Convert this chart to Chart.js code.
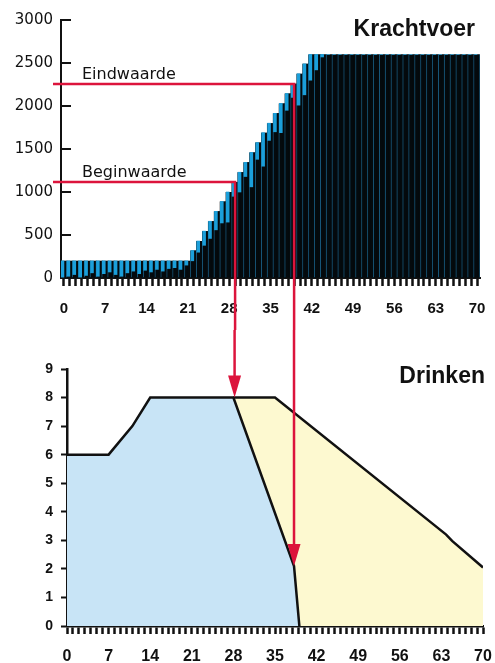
<!DOCTYPE html>
<html>
<head>
<meta charset="utf-8">
<script src="https://cdn.jsdelivr.net/npm/chart.js@4/dist/chart.umd.min.js"></script>
<style>
html, body { margin: 0; padding: 0; background: #fff; }
#wrap { width: 495px; height: 663px; }
canvas { display: block; }
</style>
</head>
<body>
<div id="wrap">
    <canvas id="voer" width="495" height="330"></canvas>
    <canvas id="drink" width="495" height="333"></canvas>
</div>
<script>
// dagen 0..70
var dagen = [0,1,2,3,4,5,6,7,8,9,10,11,12,13,14,15,16,17,18,19,20,21,22,23,24,25,26,27,28,29,30,31,32,33,34,35,
    36,37,38,39,40,41,42,43,44,45,46,47,48,49,50,51,52,53,54,55,56,57,58,59,60,61,62,63,64,65,66,67,68,69,70];

// krachtvoer per dag (g)
var voerWaarde = [200,200,200,200,200,200,200,200,200,200,200,200,200,200,200,200,200,200,200,200,200,200,
    320,430,545,660,775,890,1000,1115,1230,1345,1460,1575,1690,1800,1915,2030,2145,2260,2375,2490,
    2600,2600,2600,2600,2600,2600,2600,2600,2600,2600,2600,2600,2600,2600,2600,2600,2600,2600,2600,2600,
    2600,2600,2600,2600,2600,2600,2600,2600,2600];
// onderkant van de blauwe streep
var voerBlauwOnder = [10,20,40,10,30,60,20,50,70,40,20,60,80,50,90,70,100,80,110,120,100,150,
    200,300,380,460,560,640,650,950,1000,1180,1060,1380,1300,1600,1700,1690,1950,2100,2010,2130,
    2300,2420,2570,2600,2600,2600,2600,2600,2600,2600,2600,2600,2600,2600,2600,2600,2600,2600,2600,2600,
    2600,2600,2600,2600,2600,2600,2600,2600,2600];

var voerMarkDag = [29, 39];
var voerMarkWaarde = [1115, 2255];
var voerMarkTekst = ['Beginwaarde', 'Eindwaarde'];

// drinken (l)
var drinkVoorX = [0, 7, 11, 14, 28, 38.2, 39.1];
var drinkVoorY = [6, 6, 7, 8, 8, 2.1, 0];
var drinkNaX = [28, 35, 63.8, 64.8, 70];
var drinkNaY = [8, 8, 3.2, 2.98, 2.05];

var drinkPijlDag = [28.2, 38.2];
var drinkPijlWaarde = [8, 2.1];

var zwart = '#040a0d', blauw = '#1b9fda', rood = '#dc143c', tekst = '#111';
var lichtblauw = '#c8e4f6', lichtgeel = '#fdf9d0';

var voerPlugin = {
    id: 'voerExtra',
    beforeDatasetsDraw: function(chart){
        var ctx = chart.ctx, y = chart.scales.y, ca = chart.chartArea;
        ctx.save();
        ctx.strokeStyle = tekst;
        ctx.lineWidth = 2;
        y.ticks.forEach(function(t){
            var py = y.getPixelForValue(t.value);
            ctx.beginPath(); ctx.moveTo(ca.left, py); ctx.lineTo(ca.left + 10, py); ctx.stroke();
        });
        ctx.restore();
    },
    afterDraw: function(chart){
        var ctx = chart.ctx, x = chart.scales.x, y = chart.scales.y, ca = chart.chartArea;
        ctx.save();
        for (var i = 0; i < voerMarkDag.length; i++) {
            var px = x.getPixelForValue(voerMarkDag[i]);
            var py = y.getPixelForValue(voerMarkWaarde[i]);
            ctx.strokeStyle = rood;
            ctx.lineWidth = 2.5;
            ctx.beginPath();
            ctx.moveTo(ca.left - 8, py);
            ctx.lineTo(px, py);
            ctx.lineTo(px, chart.height + 5);
            ctx.stroke();
            ctx.fillStyle = tekst;
            ctx.font = '16px "DejaVu Sans"';
            ctx.textAlign = 'left';
            ctx.fillText(voerMarkTekst[i], ca.left + 21, py - 5.5);
        }
        ctx.fillStyle = tekst;
        ctx.font = 'bold 23px "Liberation Sans"';
        ctx.textAlign = 'right';
        ctx.fillText('Krachtvoer', ca.right - 5, 36);
        ctx.restore();
    }
};

var drinkPlugin = {
    id: 'drinkExtra',
    afterDraw: function(chart){
        var ctx = chart.ctx, x = chart.scales.x, y = chart.scales.y, ca = chart.chartArea;
        ctx.save();
        ctx.strokeStyle = rood;
        ctx.fillStyle = rood;
        ctx.lineWidth = 2.5;
        for (var i = 0; i < drinkPijlDag.length; i++) {
            var px = x.getPixelForValue(drinkPijlDag[i]);
            var py = y.getPixelForValue(drinkPijlWaarde[i]);
            ctx.beginPath(); ctx.moveTo(px, -5); ctx.lineTo(px, py - 18); ctx.stroke();
            ctx.beginPath();
            ctx.moveTo(px - 6.5, py - 22);
            ctx.lineTo(px + 6.5, py - 22);
            ctx.lineTo(px, py);
            ctx.closePath();
            ctx.fill();
        }
        ctx.fillStyle = tekst;
        ctx.font = 'bold 23px "Liberation Sans"';
        ctx.textAlign = 'right';
        ctx.fillText('Drinken', ca.right + 2, 53);
        ctx.restore();
    }
};

// geen extra ruimte voor de buitenste labels
function vastX(h){
    return function(s){ s.height = h; s.paddingLeft = 0; s.paddingRight = 0; };
}

var blauwData = voerWaarde.map(function(v, i){ return [voerBlauwOnder[i], v]; });

new Chart(document.getElementById('voer'), {
    type: 'bar',
    data: {
        labels: dagen,
        datasets: [
            { label: 'achter', data: voerWaarde, backgroundColor: zwart, grouped: false, barPercentage: 1.2, categoryPercentage: 1, order: 3 },
            { label: 'blauw', data: blauwData, backgroundColor: blauw, barPercentage: 1, categoryPercentage: 1, order: 1 },
            { label: 'zwart', data: voerWaarde, backgroundColor: zwart, borderColor: '#17577a',
              borderWidth: { left: 0, top: 0, bottom: 0, right: 1 }, barPercentage: 1, categoryPercentage: 1, order: 2 }
        ]
    },
    options: {
        responsive: false, animation: false,
        layout: { padding: { top: 20, right: 15, left: 0, bottom: 0 } },
        plugins: { legend: { display: false }, tooltip: { enabled: false } },
        scales: {
            x: {
                grid: { drawOnChartArea: false, offset: false, tickLength: 8, tickWidth: 2.5, tickColor: tekst },
                border: { color: tekst, width: 2 },
                ticks: { autoSkip: false, maxRotation: 0, padding: 14, color: tekst,
                         font: { family: 'Liberation Sans', weight: 'bold', size: 15 },
                         callback: function(v, i){ return dagen[i] % 7 === 0 ? String(dagen[i]) : ''; } },
                afterFit: vastX(52)
            },
            y: {
                min: 0, max: 3000,
                grid: { drawOnChartArea: false, drawTicks: false },
                border: { color: tekst, width: 2 },
                ticks: { stepSize: 500, padding: 8, color: tekst, font: { family: 'DejaVu Sans', size: 15 },
                         callback: function(v){ return String(v); } },
                afterFit: function(s){ s.width = 61; }
            }
        }
    },
    plugins: [voerPlugin]
});

new Chart(document.getElementById('drink'), {
    type: 'line',
    data: {
        datasets: [
            { label: 'voor', data: drinkVoorX.map(function(x, i){ return { x: x, y: drinkVoorY[i] }; }),
              fill: 'origin', backgroundColor: lichtblauw, borderColor: tekst, borderWidth: 2.5, pointRadius: 0, tension: 0, order: 1 },
            { label: 'na', data: drinkNaX.map(function(x, i){ return { x: x, y: drinkNaY[i] }; }),
              fill: 'origin', backgroundColor: lichtgeel, borderColor: tekst, borderWidth: 2.5, pointRadius: 0, tension: 0, order: 2 }
        ]
    },
    options: {
        responsive: false, animation: false,
        layout: { padding: { top: 39, right: 12, left: 0, bottom: 0 } },
        plugins: { legend: { display: false }, tooltip: { enabled: false } },
        scales: {
            x: {
                type: 'linear', min: 0, max: 70,
                grid: { drawOnChartArea: false, tickLength: 8, tickWidth: 2.5, tickColor: tekst },
                border: { color: tekst, width: 2.5 },
                ticks: { stepSize: 1, maxTicksLimit: 100, autoSkip: false, maxRotation: 0, padding: 13, color: tekst,
                         font: { family: 'Liberation Sans', weight: 'bold', size: 16 },
                         callback: function(v){ return v % 7 === 0 ? String(v) : ''; } },
                afterFit: vastX(37)
            },
            y: {
                min: 0, max: 9,
                grid: { drawOnChartArea: false, tickLength: 6, tickWidth: 2, tickColor: tekst },
                border: { color: tekst, width: 2.5 },
                ticks: { stepSize: 1, padding: 8, color: tekst, font: { family: 'Liberation Sans', weight: 'bold', size: 14 } },
                afterFit: function(s){ s.width = 67; }
            }
        }
    },
    plugins: [drinkPlugin]
});
</script>
</body>
</html>
